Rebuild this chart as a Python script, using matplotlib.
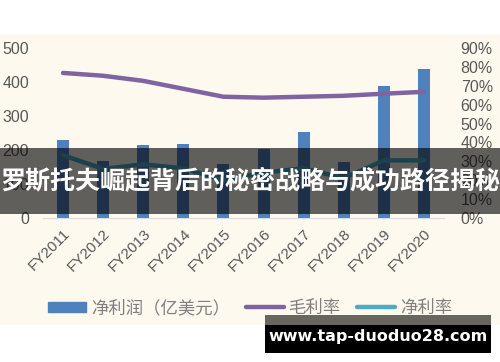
import numpy as np
import matplotlib.pyplot as plt
from matplotlib.patches import Rectangle
from matplotlib.lines import Line2D
import matplotlib.ticker as ticker

years = ['FY2011', 'FY2012', 'FY2013', 'FY2014', 'FY2015',
         'FY2016', 'FY2017', 'FY2018', 'FY2019', 'FY2020']
net_profit = [229, 168, 215, 218, 160, 203, 253, 165, 388, 438]   # 亿美元
gross_margin = [76.8, 75.3, 72.6, 68.4, 64.2, 63.7, 64.2, 64.7, 65.8, 66.8]
net_margin = [33.2, 26.0, 28.4, 26.3, 20.0, 24.0, 26.3, 21.0, 30.5, 30.5]
left_ticks = [0, 100, 200, 300, 400, 500]
right_ticks = [0, 10, 20, 30, 40, 50, 60, 70, 80, 90]

banner_text = '罗斯托夫崛起背后的秘密战略与成功路径揭秘'
watermark = 'www.tap-duoduo28.com'

plt.rcParams['font.family'] = ['Liberation Sans', 'Noto Sans CJK SC', 'DejaVu Sans']

W, H = 500, 362
fig = plt.figure(figsize=(W / 100, H / 100), dpi=100)
fig.patch.set_facecolor('white')

def fx(px):
    return px / W

def fy(py):
    return 1 - py / H

# cream chart area background
fig.patches.append(Rectangle((0, fy(325)), 1, fy(34) - fy(325), transform=fig.transFigure,
                             facecolor='#fdf9ef', edgecolor='none', zorder=-5))

ax1 = fig.add_axes([fx(43), fy(218), fx(444) - fx(43), fy(48) - fy(218)])
ax1.set_facecolor('none')
ax2 = ax1.twinx()

x = np.arange(len(years))
ax1.bar(x, net_profit, width=0.3, color='#4f81bd', zorder=2)
ax1.set_xlim(-0.5, 9.5)
ax1.set_ylim(0, 500)
ax1.set_yticks(left_ticks)
ax1.set_xticks(x)
ax1.set_xticklabels(years, rotation=45, ha='right', va='top', rotation_mode='anchor')

ax2.plot(x, gross_margin, color='#8064a2', lw=3.2, solid_capstyle='round', zorder=3)
ax2.plot(x, net_margin, color='#4bacc6', lw=3.2, solid_capstyle='round', zorder=3)
ax2.set_ylim(0, 90)
ax2.set_yticks(right_ticks)
ax2.yaxis.set_major_formatter(ticker.FuncFormatter(lambda v, p: '%d%%' % v))

for a in (ax1, ax2):
    for s in a.spines.values():
        s.set_visible(False)
    a.tick_params(length=0, colors='#595959', labelsize=11.5)
ax1.spines['bottom'].set_visible(True)
ax1.spines['bottom'].set_color('#d9d9d9')
ax1.tick_params(axis='x', labelsize=11, pad=6)
ax1.tick_params(axis='y', pad=10)
ax2.tick_params(axis='y', pad=12)

# legend
handles = [Rectangle((0, 0), 1, 1, color='#4f81bd'),
           Line2D([0], [0], color='#8064a2', lw=3.2, solid_capstyle='round'),
           Line2D([0], [0], color='#4bacc6', lw=3.2, solid_capstyle='round')]
labels = ['净利润（亿美元）', '毛利率', '净利率']
leg = fig.legend(handles, labels, loc='center', bbox_to_anchor=(fx(250), fy(308)), ncol=3,
                 frameon=False, handlelength=2.2, handleheight=0.5, columnspacing=0.9,
                 handletextpad=0.3, prop={'family': 'Noto Sans CJK SC', 'size': 12.5})
for t in leg.get_texts():
    t.set_color('#7f7f7f')

# overlay banner
fig.patches.append(Rectangle((0, fy(214)), 1, fy(148) - fy(214), transform=fig.transFigure,
                             facecolor='black', alpha=0.62, edgecolor='none', zorder=10))
fig.text(0.5, fy(181), banner_text, ha='center', va='center', color='white',
         fontsize=18, fontweight='bold', family=['Noto Sans CJK SC', 'DejaVu Sans'], zorder=11)

# watermark box
fig.patches.append(Rectangle((fx(265), fy(325)), fx(491) - fx(265), fy(315) - fy(325),
                             transform=fig.transFigure, facecolor='#67665f', edgecolor='none', zorder=10))
fig.patches.append(Rectangle((fx(265), fy(353)), fx(491) - fx(265), fy(325) - fy(353),
                             transform=fig.transFigure, facecolor='black', edgecolor='none', zorder=10))
fig.text(fx(378), fy(336), watermark, ha='center', va='center', color='white',
         fontsize=11.5, fontweight='bold', family='DejaVu Sans', zorder=11)

fig.savefig('out.png', dpi=100)
